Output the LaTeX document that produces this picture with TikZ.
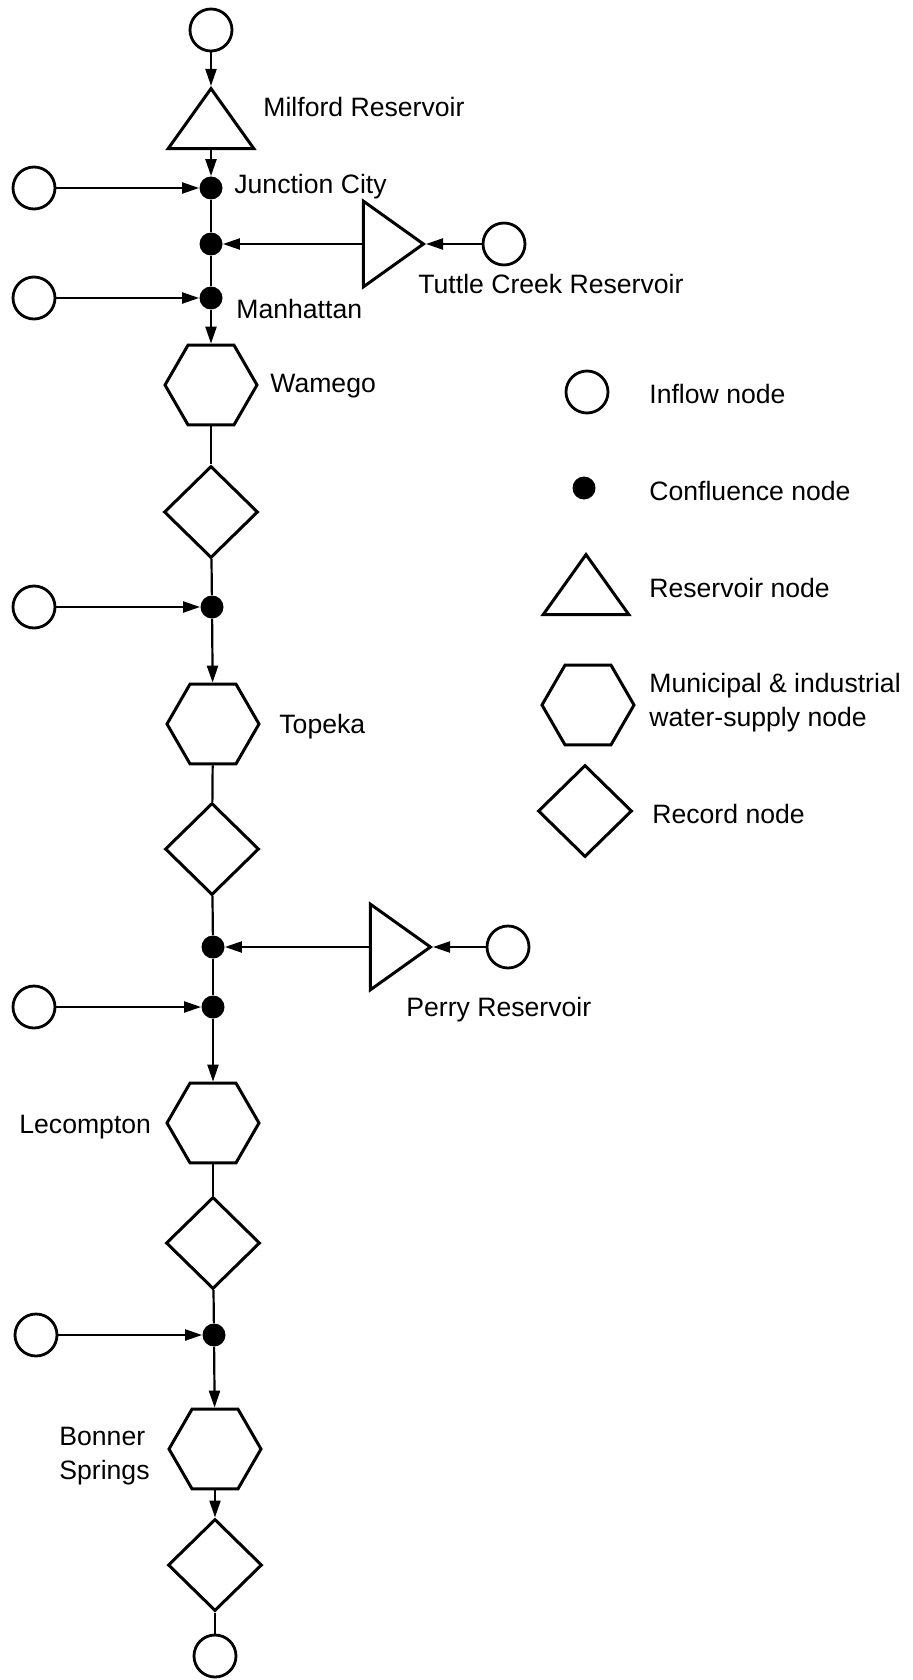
\documentclass[tikz,border=0pt]{standalone}
\usepackage{fontspec}
\setmainfont{Liberation Sans}
\usetikzlibrary{shapes.geometric,arrows.meta}

\begin{document}
\begin{tikzpicture}[x=0.5pt, y=-0.5pt,
		inflow/.style={circle, draw, line width=1.4pt, minimum size=21pt, inner sep=0pt},
		confl/.style={circle, fill, minimum size=11.5pt, inner sep=0pt},
		resv/.style={isosceles triangle, isosceles triangle apex angle=71, draw, line width=1.5pt, minimum width=30pt, minimum height=30pt, inner sep=0pt},
		mi/.style={regular polygon, regular polygon sides=6, draw, line width=1.5pt, minimum size=46pt, inner sep=0pt},
		record/.style={diamond, draw, line width=1.5pt, minimum width=47pt, minimum height=46pt, inner sep=0pt},
		lbl/.style={font=\fontsize{13.3}{17}\selectfont, inner sep=0pt},
		flow/.style={line width=1.1pt, -{Triangle[length=8.5pt,width=5.5pt]}},
		reach/.style={line width=1.1pt}]
			\useasboundingbox (0, 0) rectangle (913, 1680);

			% river network
			\node[inflow] (in1) at (211, 30) {};
			\node[resv, shape border rotate=90, anchor=apex] (milford) at (211, 86) {};
			\node[confl] (jc) at (211, 188) {};
			\node[inflow] (in2) at (34, 188) {};
			\node[confl] (c2) at (211, 244) {};
			\node[resv, anchor=apex] (tuttle) at (426, 244) {};
			\node[inflow] (in3) at (504, 244) {};
			\node[confl] (man) at (211, 298) {};
			\node[inflow] (in4) at (34, 298) {};
			\node[mi] (wamego) at (211, 385) {};
			\node[record] (rec1) at (211, 512) {};
			\node[confl] (c3) at (212, 607) {};
			\node[inflow] (in5) at (34, 607) {};
			\node[mi] (topeka) at (213, 724) {};
			\node[record] (rec2) at (212, 849) {};
			\node[confl] (c4) at (213, 947) {};
			\node[resv, anchor=apex] (perry) at (433, 947) {};
			\node[inflow] (in6) at (508, 947) {};
			\node[confl] (c5) at (213, 1007) {};
			\node[inflow] (in7) at (34, 1007) {};
			\node[mi] (lecompton) at (213, 1123) {};
			\node[record] (rec3) at (213, 1243) {};
			\node[confl] (c6) at (214, 1335) {};
			\node[inflow] (in8) at (36, 1335) {};
			\node[mi] (bonner) at (215, 1449) {};
			\node[record] (rec4) at (215, 1565) {};
			\node[inflow] (out) at (215, 1656) {};

			\draw[flow] (in1) -- (milford);
			\draw[flow] (milford) -- (jc);
			\draw[flow] (in2) -- (jc);
			\draw[reach] (jc) -- (c2);
			\draw[flow] (tuttle) -- (c2);
			\draw[flow] (in3) -- (tuttle);
			\draw[reach] (c2) -- (man);
			\draw[flow] (in4) -- (man);
			\draw[flow] (man) -- (wamego);
			\draw[reach] (wamego) -- (rec1);
			\draw[reach] (rec1) -- (c3);
			\draw[flow] (in5) -- (c3);
			\draw[flow] (c3) -- (topeka);
			\draw[reach] (topeka) -- (rec2);
			\draw[reach] (rec2) -- (c4);
			\draw[flow] (perry) -- (c4);
			\draw[flow] (in6) -- (perry);
			\draw[reach] (c4) -- (c5);
			\draw[flow] (in7) -- (c5);
			\draw[flow] (c5) -- (lecompton);
			\draw[reach] (lecompton) -- (rec3);
			\draw[reach] (rec3) -- (c6);
			\draw[flow] (in8) -- (c6);
			\draw[flow] (c6) -- (bonner);
			\draw[flow] (bonner) -- (rec4);
			\draw[reach] (rec4) -- (out);

			\node[lbl, anchor=base west] (tmilford) at (263, 117) {Milford Reservoir};
			\node[lbl, anchor=base west] (tjc) at (234, 194) {Junction City};
			\node[lbl, anchor=base west] (ttuttle) at (418, 293) {Tuttle Creek Reservoir};
			\node[lbl, anchor=base west] (tman) at (236, 318) {Manhattan};
			\node[lbl, anchor=base west] (twamego) at (270, 392) {Wamego};
			\node[lbl, anchor=base west] (ttopeka) at (279, 733) {Topeka};
			\node[lbl, anchor=base west] (tperry) at (406, 1016) {Perry Reservoir};
			\node[lbl, anchor=base west] (tlecompton) at (19, 1133) {Lecompton};
			\node[lbl, anchor=west, align=left] (tbonner) at (59, 1456) {Bonner\\Springs};

			% legend
			\node[inflow] (lgin) at (587, 392) {};
			\node[confl] (lgconfl) at (584, 488) {};
			\node[resv, shape border rotate=90, anchor=apex] (lgresv) at (586, 552) {};
			\node[mi] (lgmi) at (588, 705) {};
			\node[record] (lgrec) at (585, 811) {};
			\node[lbl, anchor=base west] (tlgin) at (649, 403) {Inflow node};
			\node[lbl, anchor=base west] (tlgconfl) at (649, 500) {Confluence node};
			\node[lbl, anchor=base west] (tlgresv) at (649, 597) {Reservoir node};
			\node[lbl, anchor=west, align=left] (tlgmi) at (649, 703) {Municipal \& industrial\\water-supply node};
			\node[lbl, anchor=base west] (tlgrec) at (652, 823) {Record node};
		\end{tikzpicture}
\end{document}
